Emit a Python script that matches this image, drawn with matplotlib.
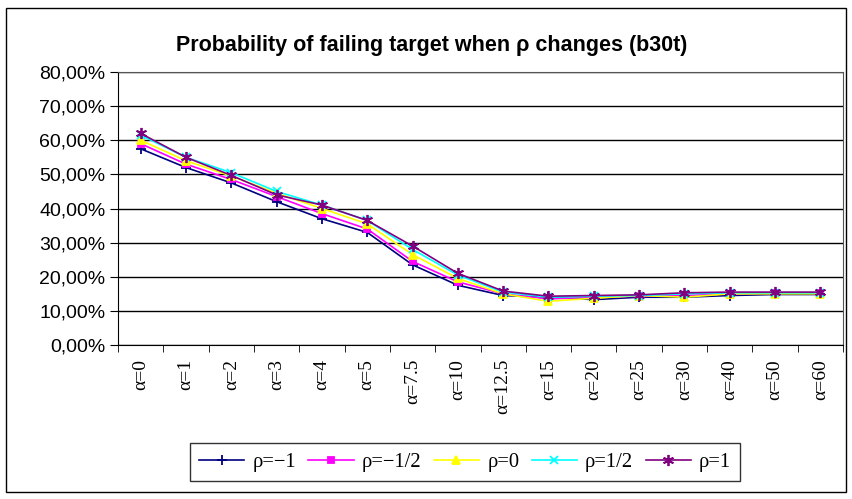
import matplotlib.pyplot as plt
import numpy as np
from matplotlib.patches import Rectangle

categories = ['α=0', 'α=1', 'α=2', 'α=3', 'α=4', 'α=5', 'α=7.5', 'α=10',
              'α=12.5', 'α=15', 'α=20', 'α=25', 'α=30', 'α=40', 'α=50', 'α=60']

rho_m1 = [57.5, 52.0, 47.5, 42.0, 37.0, 33.0, 23.5, 17.5, 14.5, 14.0, 13.3, 14.0, 14.0, 14.5, 14.8, 14.8]
rho_m05 = [59.0, 53.0, 48.5, 43.5, 38.5, 34.0, 24.5, 18.5, 15.0, 13.5, 14.0, 14.3, 14.5, 15.0, 15.2, 15.3]
rho_0 = [60.0, 54.0, 49.5, 44.5, 40.0, 35.5, 26.5, 19.5, 15.0, 12.8, 13.7, 14.5, 14.0, 15.0, 15.0, 15.0]
rho_05 = [61.5, 55.0, 50.5, 45.0, 41.0, 36.5, 28.0, 20.5, 15.5, 14.0, 14.3, 14.5, 15.0, 15.3, 15.3, 15.3]
rho_1 = [62.0, 55.0, 49.7, 44.0, 41.0, 36.5, 29.0, 21.0, 15.8, 14.3, 14.5, 14.7, 15.3, 15.5, 15.5, 15.5]

series = [
    ('ρ=−1', rho_m1, '#000080', '+', 7),
    ('ρ=−1/2', rho_m05, '#ff00ff', 's', 5),
    ('ρ=0', rho_0, '#ffff00', '^', 6),
    ('ρ=1/2', rho_05, '#00ffff', 'x', 6),
    ('ρ=1', rho_1, '#800080', (6, 2, 0), 8),
]

fig = plt.figure(figsize=(8.52, 4.99), dpi=100)
ax = fig.add_axes([118 / 852, 1 - 345 / 499, 725 / 852, 273 / 499])

x = np.arange(len(categories))
for label, vals, color, marker, ms in series:
    ax.plot(x, np.array(vals) / 100, color=color, marker=marker, markersize=ms,
            linewidth=1.2, markeredgewidth=1.3, label=label)

ax.set_xlim(-0.5, len(categories) - 0.5)
ax.set_ylim(0, 0.8)
yt = np.arange(0, 0.81, 0.1)
ax.set_yticks(yt)
ax.set_yticklabels([f'{v * 100:.2f}%'.replace('.', ',') for v in yt],
                   fontfamily='Liberation Sans', fontsize=14)
ax.yaxis.grid(True, color='black', linewidth=1)
ax.set_axisbelow(True)

ax.set_xticks(x)
ax.set_xticklabels(categories, rotation=90, fontfamily='Liberation Serif', fontsize=14)
ax.tick_params(axis='x', length=0, pad=10)
ax.set_xticks(np.arange(-0.5, len(categories)), minor=True)
ax.tick_params(axis='x', which='minor', length=5, direction='out')
ax.tick_params(axis='y', length=6, direction='out', pad=3)

for side in ['top', 'right']:
    ax.spines[side].set_color('#555555')
for side in ['left', 'bottom']:
    ax.spines[side].set_color('black')

fig.text(432 / 852, 1 - 45 / 499, 'Probability of failing target when ρ changes (b30t)',
         ha='center', va='center', fontsize=15.5, fontweight='bold', fontfamily='Liberation Sans')

leg = fig.legend(loc='center', bbox_to_anchor=(465 / 852, 1 - 462 / 499), ncol=5,
                 prop={'family': 'Liberation Serif', 'size': 14.8}, frameon=True, fancybox=False,
                 handlelength=2.2, columnspacing=0.6, handletextpad=0.4, borderpad=0.45)
leg.get_frame().set_edgecolor('black')
leg.get_frame().set_linewidth(1)

fig.patches.append(Rectangle((6 / 852, 1 - 492 / 499), 840 / 852, 484 / 499,
                             transform=fig.transFigure, fill=False, edgecolor='black', linewidth=1))

fig.savefig('out.png', dpi=100)
